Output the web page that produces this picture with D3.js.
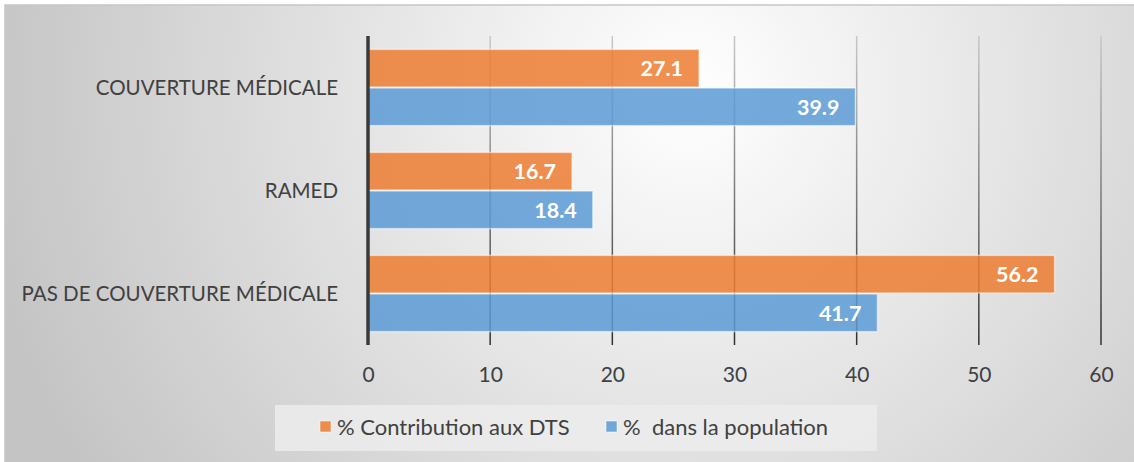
<!DOCTYPE html>
<html>
<head>
<meta charset="utf-8">
<script src="https://cdn.jsdelivr.net/npm/d3@7"></script>
<style>
  body { margin: 0; background: #fff; }
  svg { display: block; font-family: Lato, "Open Sans", sans-serif; }
</style>
</head>
<body>
<svg id="chart" width="1134" height="462"></svg>
<script>
const categories = ["COUVERTURE MÉDICALE", "RAMED", "PAS DE COUVERTURE MÉDICALE"];
const seriesNames = ["% Contribution aux DTS", "%  dans la population"];
const contribution = [27.1, 16.7, 56.2];
const population = [39.9, 18.4, 41.7];
const xTicks = [0, 10, 20, 30, 40, 50, 60];
const colors = ["#ED7D31", "#5B9BD5"];

const svg = d3.select("#chart");
const width = 1134, height = 462;
const margin = { left: 368, right: 33, top: 36, bottom: 117 };

const defs = svg.append("defs");
const bg = defs.append("radialGradient").attr("id", "bg")
  .attr("gradientUnits", "userSpaceOnUse")
  .attr("cx", 690).attr("cy", 90).attr("r", 720);
bg.append("stop").attr("offset", 0).attr("stop-color", "#ffffff");
bg.append("stop").attr("offset", 1).attr("stop-color", "#c4c4c4");

const gridGrad = defs.append("linearGradient").attr("id", "grid")
  .attr("gradientUnits", "userSpaceOnUse")
  .attr("x1", 0).attr("x2", 0).attr("y1", margin.top).attr("y2", height - margin.bottom);
gridGrad.append("stop").attr("offset", 0).attr("stop-color", "#c8c8c8");
gridGrad.append("stop").attr("offset", 1).attr("stop-color", "#303030");

svg.append("rect").attr("x", 5).attr("y", 5).attr("width", width).attr("height", height)
  .attr("fill", "url(#bg)").attr("stroke", "#c6c6c6").attr("stroke-width", 1.5);

const x = d3.scaleLinear().domain([0, 60]).range([margin.left, width - margin.right]);
const y = d3.scaleBand().domain(categories)
  .range([margin.top, height - margin.bottom]).paddingInner(0.25).paddingOuter(0.125);
const ySub = d3.scaleBand().domain([0, 1]).range([0, y.bandwidth()]);

// gridlines
svg.append("g").selectAll("line").data(xTicks.slice(1)).join("line")
  .attr("x1", d => x(d)).attr("x2", d => x(d))
  .attr("y1", margin.top).attr("y2", height - margin.bottom)
  .attr("stroke", "url(#grid)").attr("stroke-width", 1.5);

const xAxis = svg.append("g")
  .attr("transform", `translate(0,${height - margin.bottom})`)
  .call(d3.axisBottom(x).tickValues(xTicks).tickSize(0).tickPadding(22));
xAxis.select(".domain").remove();
xAxis.selectAll("text").attr("font-size", 21).attr("fill", "#404040")
  .attr("font-family", "Lato, 'Open Sans', sans-serif");

const groups = svg.append("g").selectAll("g").data(categories).join("g")
  .attr("transform", d => `translate(0,${y(d)})`);

const rows = categories.map((c, i) => [contribution[i], population[i]]);

groups.each(function(c, i) {
  const g = d3.select(this);
  rows[i].forEach((v, s) => {
    g.append("rect")
      .attr("x", x(0)).attr("y", ySub(s) + 0.5)
      .attr("width", x(v) - x(0)).attr("height", ySub.bandwidth() - 1)
      .attr("fill", colors[s]).attr("fill-opacity", 0.85)
      .attr("stroke", "#ffffff").attr("stroke-opacity", 0.5).attr("stroke-width", 1.5);
    g.append("text")
      .attr("x", x(v) - 16).attr("y", ySub(s) + ySub.bandwidth() / 2)
      .attr("dy", "0.36em").attr("text-anchor", "end")
      .attr("font-size", 21.5).attr("font-weight", "bold").attr("fill", "#fff")
      .text(v.toFixed(1));
  });
});

// category labels
svg.append("g").selectAll("text").data(categories).join("text")
  .attr("x", margin.left - 30).attr("y", d => y(d) + y.bandwidth() / 2)
  .attr("dy", "0.36em").attr("text-anchor", "end")
  .attr("font-size", 20.5).attr("fill", "#404040")
  .text(d => d);

// y axis line
svg.append("line")
  .attr("x1", x(0)).attr("x2", x(0))
  .attr("y1", margin.top).attr("y2", height - margin.bottom)
  .attr("stroke", "#3a3a3a").attr("stroke-width", 3.5);

// legend
const legend = svg.append("g");
legend.append("rect").attr("x", 275).attr("y", 405).attr("width", 602).attr("height", 46)
  .attr("fill", "#ececec").attr("fill-opacity", 0.85);
const lx = [320, 606];
seriesNames.forEach((name, s) => {
  legend.append("rect").attr("x", lx[s]).attr("y", 421).attr("width", 11).attr("height", 11)
    .attr("fill", colors[s]).attr("fill-opacity", 0.85)
    .attr("stroke", "#fff").attr("stroke-opacity", 0.5);
  legend.append("text").attr("x", lx[s] + 17).attr("y", 427).attr("dy", "0.36em")
    .attr("font-size", 22).attr("fill", "#404040").attr("xml:space", "preserve")
    .text(name);
});
</script>
</body>
</html>
